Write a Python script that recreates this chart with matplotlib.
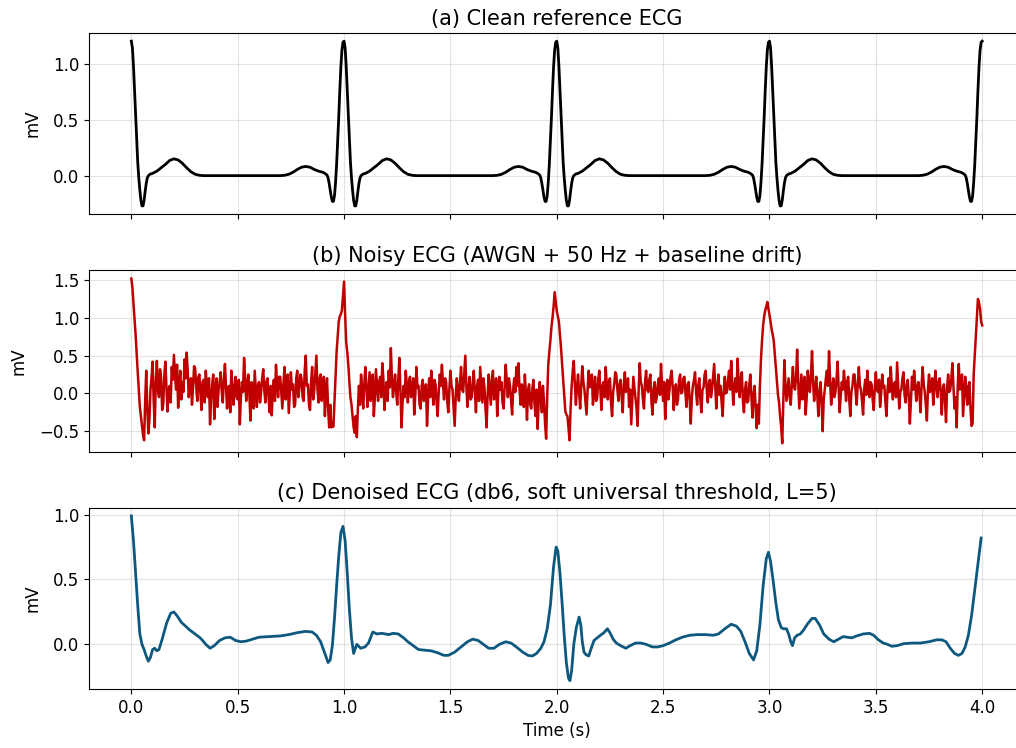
import numpy as np
import matplotlib
matplotlib.use("Agg")
import matplotlib.pyplot as plt

# ---------------- data ----------------
# one beat of the clean reference ECG (time offset from R peak, mV)
beat_t = [0.000, 0.005, 0.010, 0.015, 0.020, 0.025, 0.030, 0.035, 0.040, 0.045,
          0.050, 0.055, 0.060, 0.065, 0.070, 0.075, 0.080, 0.090, 0.100, 0.110,
          0.120, 0.140, 0.160, 0.180, 0.200, 0.220, 0.240, 0.260, 0.280, 0.300,
          0.320, 0.340, 0.400, 0.500, 0.600, 0.700, 0.720, 0.740, 0.760, 0.780,
          0.800, 0.820, 0.840, 0.860, 0.880, 0.900, 0.910, 0.920, 0.925, 0.930,
          0.935, 0.940, 0.945, 0.950, 0.955, 0.960, 0.965, 0.970, 0.975, 0.980,
          0.985, 0.990, 0.995]
beat_v = [1.20, 1.14, 0.98, 0.76, 0.52, 0.30, 0.12, -0.02, -0.13, -0.22,
          -0.27, -0.27, -0.22, -0.14, -0.07, -0.02, 0.00, 0.015, 0.02, 0.03,
          0.04, 0.07, 0.10, 0.135, 0.15, 0.14, 0.11, 0.07, 0.035, 0.012,
          0.003, 0.0, 0.0, 0.0, 0.0, 0.0, 0.003, 0.012, 0.03, 0.055,
          0.075, 0.082, 0.075, 0.055, 0.04, 0.03, 0.02, 0.005, -0.02, -0.07,
          -0.13, -0.19, -0.23, -0.23, -0.18, -0.06, 0.10, 0.30, 0.52, 0.76,
          0.97, 1.12, 1.19]
n_beats = 4

# noisy ECG, sampled every 5 ms from 0.00 s to 4.00 s (20 samples per row = 0.1 s)
noisy_dt = 0.005
noisy_v = [
    1.52, 1.40, 1.20, 1.02, 0.78, 0.52, 0.28, 0.05, -0.18, -0.30, -0.42, -0.55, -0.62, -0.10, 0.30, -0.20, -0.53, -0.35, 0.05, 0.22,
    0.42, -0.10, -0.45, 0.15, 0.43, 0.05, -0.05, 0.32, 0.20, -0.22, -0.15, 0.25, 0.42, 0.10, -0.24, 0.05, 0.10, -0.12, 0.35, 0.18,
    0.51, 0.28, 0.05, 0.38, -0.19, 0.10, 0.30, -0.08, 0.15, 0.02, 0.45, 0.20, 0.54, 0.30, -0.05, 0.12, 0.20, -0.15, 0.08, 0.36,
    0.33, 0.08, -0.10, 0.22, 0.25, -0.02, -0.22, 0.15, 0.18, -0.12, 0.30, 0.10, -0.05, 0.20, -0.41, -0.08, 0.12, 0.25, -0.34, 0.05,
    0.20, -0.18, 0.05, 0.15, 0.28, 0.02, -0.12, 0.18, 0.39, 0.10, -0.20, 0.08, 0.10, -0.25, 0.30, 0.12, -0.15, 0.05, 0.22, -0.05,
    -0.08, 0.18, -0.41, -0.05, 0.15, 0.02, 0.47, 0.20, -0.10, 0.12, 0.25, -0.02, -0.36, 0.15, 0.08, -0.20, 0.30, 0.05, -0.18, 0.10,
    0.15, -0.12, 0.02, 0.20, 0.32, 0.05, -0.12, 0.15, 0.20, -0.05, -0.25, 0.10, -0.29, 0.02, 0.18, -0.10, 0.38, 0.12, -0.05, 0.22,
    0.22, 0.02, -0.20, 0.12, 0.35, -0.08, 0.05, 0.25, -0.26, 0.00, 0.28, 0.05, 0.12, -0.18, -0.15, 0.20, 0.30, -0.05, 0.08, 0.25,
    0.20, -0.05, -0.10, 0.30, 0.50, 0.10, 0.12, -0.15, -0.22, 0.15, 0.35, -0.08, 0.05, 0.28, 0.50, 0.05, -0.12, 0.20, 0.25, -0.10,
    0.10, 0.22, -0.30, 0.05, 0.20, -0.20, -0.45, -0.15, -0.45, -0.42, -0.44, -0.10, 0.25, 0.55, 0.75, 0.95, 1.02, 1.05, 1.10, 1.30,
    1.48, 1.05, 0.68, 0.55, 0.38, 0.15, -0.05, -0.15, -0.30, -0.45, -0.52, -0.30, -0.58, -0.20, 0.10, -0.15, 0.25, 0.05, -0.20, 0.12,
    0.35, 0.10, -0.18, 0.05, 0.28, -0.10, 0.05, 0.25, -0.30, -0.05, 0.32, 0.12, -0.10, 0.15, 0.22, -0.05, 0.40, 0.18, -0.22, 0.02,
    0.15, -0.10, 0.30, 0.08, 0.60, 0.20, -0.05, 0.12, 0.25, 0.02, -0.15, 0.18, 0.47, 0.05, -0.45, -0.12, 0.10, -0.05, 0.30, 0.12,
    -0.12, 0.15, 0.22, -0.05, 0.05, 0.20, -0.28, -0.02, 0.35, 0.08, 0.10, -0.15, -0.20, 0.10, 0.18, -0.10, -0.05, 0.12, -0.43, -0.08,
    0.20, -0.05, 0.30, 0.05, -0.15, 0.18, 0.12, -0.12, -0.30, 0.02, 0.25, 0.10, 0.38, 0.12, -0.08, 0.20, 0.15, -0.10, -0.25, 0.05,
    0.30, 0.10, 0.05, -0.20, -0.43, -0.05, 0.20, 0.02, -0.10, 0.15, 0.35, 0.05, 0.02, 0.25, 0.50, 0.10, -0.18, 0.05, 0.22, -0.08,
    -0.05, 0.15, 0.30, 0.02, -0.25, 0.08, 0.18, -0.10, 0.35, 0.12, -0.12, 0.20, 0.08, -0.20, -0.45, -0.02, 0.25, 0.05, -0.15, 0.18,
    0.30, -0.08, 0.02, 0.20, -0.30, 0.00, 0.22, 0.05, 0.15, -0.12, -0.20, 0.10, 0.38, 0.15, -0.05, 0.20, 0.10, -0.08, -0.28, 0.05,
    0.20, 0.02, 0.35, 0.10, 0.40, 0.05, -0.15, 0.12, 0.05, -0.18, 0.25, -0.02, -0.35, 0.05, 0.12, -0.15, -0.20, 0.05, 0.18, -0.12,
    -0.30, 0.05, -0.47, -0.10, 0.15, -0.08, -0.25, 0.10, -0.10, -0.40, -0.60, -0.05, 0.38, 0.55, 0.70, 0.88, 1.00, 1.15, 1.34, 1.22,
    1.09, 1.02, 0.95, 0.78, 0.60, 0.40, 0.20, -0.02, -0.23, -0.28, -0.30, -0.45, -0.62, -0.20, 0.10, 0.30, 0.43, 0.12, -0.15, 0.08,
    0.25, 0.02, -0.20, 0.10, 0.36, 0.15, 0.05, -0.12, -0.28, 0.05, 0.30, 0.08, 0.10, 0.25, -0.15, 0.02, 0.22, -0.10, -0.05, 0.18,
    0.30, 0.05, -0.22, 0.10, 0.15, -0.05, 0.35, 0.12, -0.08, 0.15, 0.20, -0.12, -0.30, 0.02, 0.12, 0.28, 0.25, 0.05, -0.10, 0.12,
    0.18, -0.05, -0.25, 0.10, 0.28, 0.02, 0.05, 0.20, -0.18, 0.05, -0.41, -0.10, 0.22, 0.08, -0.05, -0.20, -0.43, 0.05, 0.40, 0.15,
    0.10, -0.08, -0.20, 0.15, 0.30, 0.05, 0.02, 0.18, 0.25, -0.10, -0.28, 0.05, 0.15, -0.12, -0.05, 0.12, 0.20, -0.02, 0.39, 0.10,
    -0.10, 0.15, -0.34, -0.02, 0.18, -0.08, 0.05, 0.22, 0.30, 0.08, -0.22, 0.05, 0.12, -0.15, -0.08, 0.18, 0.25, 0.00, 0.02, 0.20,
    0.22, 0.00, -0.18, 0.12, 0.15, -0.10, -0.40, -0.05, 0.10, 0.18, 0.28, 0.02, -0.15, 0.10, 0.20, -0.08, -0.25, 0.05, 0.08, 0.25,
    0.30, 0.05, -0.12, 0.12, 0.18, -0.05, 0.05, 0.22, 0.39, 0.10, -0.20, 0.08, 0.25, -0.02, 0.10, -0.12, -0.30, 0.05, 0.22, 0.00,
    0.02, 0.18, 0.30, 0.05, 0.43, 0.12, -0.15, 0.10, 0.20, 0.02, 0.46, 0.15, -0.05, 0.20, 0.28, -0.10, -0.25, 0.05, 0.15, -0.12,
    -0.10, 0.12, 0.25, -0.05, -0.32, -0.02, 0.10, -0.20, -0.46, -0.15, -0.40, 0.10, 0.45, 0.70, 0.90, 1.02, 1.10, 1.15, 1.21, 1.12,
    1.04, 0.95, 0.85, 0.78, 0.70, 0.52, 0.35, 0.15, -0.02, -0.12, -0.30, -0.45, -0.66, -0.10, 0.44, 0.12, -0.10, 0.05, 0.20, -0.05,
    -0.15, 0.12, 0.35, 0.10, 0.05, 0.22, 0.58, 0.15, -0.20, 0.02, 0.25, -0.08, 0.10, 0.22, -0.28, -0.05, 0.30, 0.12, 0.02, 0.25,
    0.56, 0.15, -0.10, 0.08, 0.22, -0.05, -0.30, 0.02, 0.15, -0.12, -0.50, -0.08, 0.05, 0.20, 0.30, 0.10, 0.56, 0.18, -0.15, 0.05,
    0.20, -0.05, 0.02, 0.18, 0.42, 0.10, -0.25, -0.02, 0.15, 0.05, 0.30, 0.12, -0.10, 0.15, 0.22, -0.08, -0.30, 0.02, 0.10, 0.25,
    0.25, 0.02, -0.15, 0.12, 0.35, 0.10, 0.05, -0.10, -0.28, 0.05, 0.18, -0.02, 0.30, 0.10, -0.05, 0.15, 0.12, -0.08, -0.22, 0.08,
    0.28, 0.05, 0.02, 0.18, -0.18, 0.00, 0.25, 0.08, 0.10, -0.12, -0.30, 0.05, 0.20, 0.02, 0.35, 0.10, -0.08, 0.12, 0.15, -0.05,
    0.41, 0.10, -0.20, 0.02, 0.05, 0.20, 0.28, -0.02, -0.12, 0.10, 0.18, -0.05, -0.40, -0.08, 0.22, 0.05, 0.30, 0.12, -0.10, 0.08,
    0.15, -0.02, -0.25, 0.10, 0.35, 0.12, 0.02, -0.15, -0.36, 0.05, 0.25, 0.02, 0.10, 0.20, -0.15, 0.05, 0.30, 0.10, -0.05, 0.15,
    0.20, 0.02, -0.28, 0.05, 0.12, -0.10, -0.38, 0.08, 0.25, 0.02, 0.05, 0.20, 0.40, 0.08, -0.20, -0.05, -0.45, 0.10, 0.39, 0.05,
    0.10, 0.25, -0.30, -0.05, 0.22, 0.02, -0.15, 0.10, 0.15, -0.20, -0.43, -0.40, 0.25, 0.50, 0.75, 1.00, 1.25, 1.20, 1.12, 0.95,
    0.90]

# denoised ECG (db6, soft universal threshold, L=5)
den_t = [0.000, 0.010, 0.020, 0.030, 0.040, 0.050, 0.060, 0.070, 0.080, 0.090,
         0.100, 0.110, 0.120, 0.130, 0.145, 0.165, 0.185, 0.200, 0.215, 0.235,
         0.255, 0.275, 0.300, 0.320, 0.335, 0.350, 0.370, 0.390, 0.415, 0.440,
         0.465, 0.490, 0.515, 0.540, 0.570, 0.600, 0.650, 0.700, 0.740, 0.780,
         0.820, 0.850, 0.870, 0.890, 0.910, 0.925, 0.935, 0.945, 0.955, 0.965,
         0.975, 0.985, 0.995, 1.005, 1.015, 1.025, 1.035, 1.045, 1.060, 1.078,
         1.098, 1.115, 1.135, 1.155, 1.175, 1.195, 1.210, 1.230, 1.255, 1.280,
         1.300, 1.325, 1.350, 1.380, 1.410, 1.440, 1.470, 1.490, 1.520, 1.550,
         1.580, 1.605, 1.630, 1.655, 1.680, 1.705, 1.730, 1.760, 1.785, 1.810,
         1.840, 1.865, 1.885, 1.905, 1.925, 1.940, 1.955, 1.970, 1.985, 1.997,
         2.005, 2.015, 2.025, 2.035, 2.045, 2.055, 2.062, 2.070, 2.080, 2.092,
         2.105, 2.113, 2.120, 2.128, 2.138, 2.150, 2.160, 2.175, 2.190, 2.205,
         2.222, 2.238, 2.250, 2.265, 2.280, 2.300, 2.325, 2.345, 2.370, 2.395,
         2.420, 2.450, 2.475, 2.500, 2.530, 2.560, 2.590, 2.625, 2.660, 2.700,
         2.735, 2.760, 2.790, 2.820, 2.845, 2.865, 2.885, 2.905, 2.925, 2.940,
         2.955, 2.970, 2.985, 2.995, 3.005, 3.018, 3.030, 3.042, 3.055, 3.065,
         3.080, 3.090, 3.100, 3.108, 3.118, 3.130, 3.145, 3.160, 3.180, 3.200,
         3.215, 3.235, 3.255, 3.280, 3.302, 3.325, 3.347, 3.365, 3.387, 3.410,
         3.440, 3.470, 3.490, 3.512, 3.535, 3.555, 3.575, 3.600, 3.630, 3.670,
         3.710, 3.750, 3.785, 3.810, 3.830, 3.850, 3.870, 3.888, 3.905, 3.920,
         3.935, 3.950, 3.965, 3.980, 3.995]
den_v = [0.99, 0.80, 0.55, 0.30, 0.08, 0.00, -0.04, -0.09, -0.13, -0.10,
         -0.04, -0.03, -0.05, -0.04, 0.04, 0.16, 0.24, 0.25, 0.22, 0.17,
         0.14, 0.11, 0.08, 0.055, 0.03, 0.00, -0.03, -0.01, 0.03, 0.05,
         0.055, 0.03, 0.02, 0.025, 0.04, 0.055, 0.06, 0.065, 0.075, 0.09,
         0.10, 0.095, 0.07, 0.02, -0.07, -0.14, -0.12, -0.01, 0.20, 0.45,
         0.68, 0.86, 0.91, 0.80, 0.55, 0.27, 0.05, -0.07, 0.00, -0.03,
         -0.02, 0.01, 0.095, 0.08, 0.085, 0.08, 0.075, 0.085, 0.08, 0.05,
         0.02, -0.01, -0.04, -0.045, -0.05, -0.065, -0.085, -0.085, -0.06, -0.02,
         0.02, 0.04, 0.03, 0.00, -0.03, -0.03, 0.00, 0.02, 0.01, -0.02,
         -0.06, -0.085, -0.09, -0.07, -0.03, 0.02, 0.12, 0.30, 0.60, 0.75,
         0.72, 0.55, 0.32, 0.07, -0.14, -0.26, -0.28, -0.20, 0.00, 0.13,
         0.21, 0.15, 0.02, -0.06, -0.08, -0.09, -0.04, 0.03, 0.05, 0.07,
         0.09, 0.12, 0.09, 0.04, 0.01, -0.01, -0.03, -0.01, 0.01, 0.01,
         0.00, -0.02, -0.02, -0.01, 0.01, 0.035, 0.055, 0.07, 0.075, 0.075,
         0.07, 0.08, 0.12, 0.155, 0.14, 0.10, 0.02, -0.07, -0.12, -0.05,
         0.15, 0.45, 0.66, 0.71, 0.64, 0.48, 0.32, 0.19, 0.13, 0.12,
         0.12, 0.08, 0.02, -0.01, 0.05, 0.07, 0.08, 0.11, 0.16, 0.20,
         0.20, 0.15, 0.08, 0.04, 0.02, 0.04, 0.06, 0.055, 0.05, 0.065,
         0.08, 0.085, 0.07, 0.035, 0.01, 0.00, -0.015, -0.01, 0.005, 0.01,
         0.01, 0.02, 0.035, 0.035, 0.02, -0.03, -0.07, -0.085, -0.07, -0.02,
         0.07, 0.22, 0.42, 0.62, 0.82]

titles = ["(a) Clean reference ECG",
          "(b) Noisy ECG (AWGN + 50 Hz + baseline drift)",
          "(c) Denoised ECG (db6, soft universal threshold, L=5)"]
colors = ["black", "#c00000", "#0d587f"]
line_widths = [2.0, 1.8, 2.0]

# -------------- build series --------------
clean_t = []
clean_v = []
for k in range(n_beats):
    clean_t += [k + bt for bt in beat_t]
    clean_v += beat_v
clean_t.append(float(n_beats))
clean_v.append(beat_v[0])

noisy_t = np.arange(len(noisy_v)) * noisy_dt

# -------------- figure --------------
plt.rcParams['font.family'] = ['DejaVu Sans']
fig, axes = plt.subplots(3, 1, figsize=(10.16, 7.48), dpi=100, sharex=True)
fig.subplots_adjust(left=0.0874, right=1.0086, top=0.956, bottom=0.079, hspace=0.31)

series = [(clean_t, clean_v), (noisy_t, noisy_v), (den_t, den_v)]
for ax, (x, y), title, c, lw in zip(axes, series, titles, colors, line_widths):
    ax.plot(x, y, color=c, lw=lw)
    ax.set_title(title, fontsize=15)
    ax.set_ylabel("mV", fontsize=12, labelpad=8)
    ax.grid(True, color="#b0b0b0", alpha=0.35, lw=0.8)
    ax.tick_params(labelsize=12)

axes[-1].set_xlabel("Time (s)", fontsize=12)
axes[-1].set_xticks([0.0, 0.5, 1.0, 1.5, 2.0, 2.5, 3.0, 3.5, 4.0])

fig.savefig("out.png", dpi=100)
